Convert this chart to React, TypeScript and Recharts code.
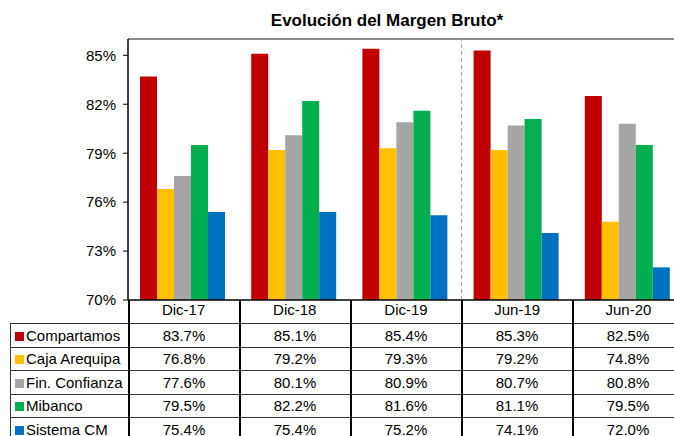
import React from 'react'
import { BarChart, Bar, XAxis, YAxis, ReferenceLine } from 'recharts'

const categories = ['Dic-17', 'Dic-18', 'Dic-19', 'Jun-19', 'Jun-20']
const compartamos = [83.7, 85.1, 85.4, 85.3, 82.5]
const cajaArequipa = [76.8, 79.2, 79.3, 79.2, 74.8]
const finConfianza = [77.6, 80.1, 80.9, 80.7, 80.8]
const mibanco = [79.5, 82.2, 81.6, 81.1, 79.5]
const sistemaCM = [75.4, 75.4, 75.2, 74.1, 72.0]
const yTicks = [70, 73, 76, 79, 82, 85]

const series = [
  { key: 'compartamos', name: 'Compartamos', values: compartamos },
  { key: 'caja', name: 'Caja Arequipa', values: cajaArequipa },
  { key: 'confianza', name: 'Fin. Confianza', values: finConfianza },
  { key: 'mibanco', name: 'Mibanco', values: mibanco },
  { key: 'sistema', name: 'Sistema CM', values: sistemaCM },
]

const COLORS: Record<string, string> = {
  compartamos: '#C00000',
  caja: '#FFC000',
  confianza: '#A5A5A5',
  mibanco: '#00B050',
  sistema: '#0070C0',
}

const FONT = '"Liberation Sans", Arial, sans-serif'

const data = categories.map((cat, i) => {
  const row: any = { cat }
  series.forEach((s) => (row[s.key] = s.values[i]))
  return row
})

const COL0 = 118
const COLW = 111
const ROWH = 23.5

export default function App() {
  return (
    <div
      style={{
        position: 'absolute',
        left: 0,
        top: 0,
        width: 674,
        height: 436,
        overflow: 'hidden',
        background: '#fff',
        fontFamily: FONT,
      }}
    >
      <div
        style={{
          position: 'absolute',
          left: 187,
          top: 11,
          width: 400,
          textAlign: 'center',
          fontWeight: 'bold',
          fontSize: 17,
          color: '#000',
        }}
      >
        Evolución del Margen Bruto*
      </div>
      <div style={{ position: 'absolute', left: 0, top: 0 }}>
        <BarChart
          width={690}
          height={323}
          data={data}
          margin={{ top: 39, right: 6, left: 0, bottom: 0 }}
          barGap={0}
          barCategoryGap={12}
        >
          <XAxis
            dataKey="cat"
            height={23}
            tickLine={false}
            tickSize={0}
            tickMargin={4}
            axisLine={{ stroke: '#000', strokeWidth: 1.5 }}
            tick={{ fontSize: 15, fill: '#000', fontFamily: FONT }}
          />
          <YAxis
            width={128}
            domain={[70, 86]}
            ticks={yTicks}
            allowDataOverflow
            tickFormatter={(v) => `${v}%`}
            tickSize={5}
            tickMargin={7}
            axisLine={{ stroke: '#000', strokeWidth: 1.5 }}
            tickLine={{ stroke: '#000' }}
            tick={{ fontSize: 15, fill: '#000', fontFamily: FONT }}
          />
          <ReferenceLine y={86} stroke="#8c8c8c" strokeWidth={2} />
          <ReferenceLine
            x="Jun-19"
            position="start"
            stroke="#a0a0a0"
            strokeDasharray="4 3"
            segment={[
              { x: 'Jun-19', y: 85.6 },
              { x: 'Jun-19', y: 70 },
            ]}
          />
          {series.map((s) => (
            <Bar
              key={s.key}
              dataKey={s.key}
              name={s.name}
              fill={COLORS[s.key]}
              isAnimationActive={false}
            />
          ))}
        </BarChart>
      </div>
      <table
        style={{
          position: 'absolute',
          left: 10,
          top: 300,
          borderCollapse: 'collapse',
          tableLayout: 'fixed',
          width: COL0 + COLW * 5,
          fontSize: 15,
          color: '#000',
          fontFamily: FONT,
        }}
      >
        <colgroup>
          <col style={{ width: COL0 }} />
          {categories.map((c) => (
            <col key={c} style={{ width: COLW }} />
          ))}
        </colgroup>
        <tbody>
          <tr style={{ height: ROWH }}>
            <td style={{ padding: 0 }} />
            {categories.map((c) => (
              <td
                key={c}
                style={{
                  padding: 0,
                  borderLeft: '2px solid #000',
                  borderRight: '2px solid #000',
                }}
              />
            ))}
          </tr>
          {series.map((s) => (
            <tr key={s.key} style={{ height: ROWH }}>
              <td
                style={{
                  padding: '0 0 0 4px',
                  borderTop: '1px solid #333',
                  borderBottom: '1px solid #333',
                  borderLeft: '1px solid #333',
                  borderRight: '2px solid #000',
                  whiteSpace: 'nowrap',
                  overflow: 'hidden',
                }}
              >
                <span
                  style={{
                    display: 'inline-block',
                    width: 9,
                    height: 9,
                    background: COLORS[s.key],
                    marginRight: 2,
                  }}
                />
                {s.name}
              </td>
              {s.values.map((v, i) => (
                <td
                  key={i}
                  style={{
                    padding: 0,
                    textAlign: 'center',
                    borderTop: '1px solid #333',
                    borderBottom: '1px solid #333',
                    borderLeft: '2px solid #000',
                    borderRight: '2px solid #000',
                  }}
                >
                  {v.toFixed(1)}%
                </td>
              ))}
            </tr>
          ))}
        </tbody>
      </table>
    </div>
  )
}
